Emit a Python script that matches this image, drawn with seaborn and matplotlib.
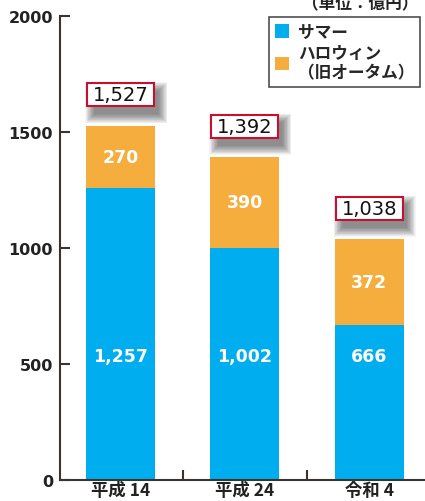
import numpy as np
import pandas as pd
import matplotlib
matplotlib.use('Agg')
import matplotlib.pyplot as plt
import seaborn as sns
from matplotlib.patches import Patch, Rectangle
from matplotlib.transforms import IdentityTransform

# data
categories = ['平成 14', '平成 24', '令和 4']
summer = [1257, 1002, 666]
halloween = [270, 390, 372]
totals = [1527, 1392, 1038]
series_names = ['サマー', 'ハロウィン\n（旧オータム）']
unit_label = '（単位：億円）'
yticks = [0, 500, 1000, 1500, 2000]

BLUE = '#00aeef'
ORANGE = '#f5ad3d'
RED = '#c8102e'
AXC = '#3a3330'

sns.set_theme(style='white')
plt.rcParams['font.family'] = ['Noto Sans CJK JP', 'DejaVu Sans']

df = pd.DataFrame({'cat': categories, 'summer': summer, 'halloween': halloween})
df['total'] = df['summer'] + df['halloween']

fig = plt.figure(figsize=(4.25, 5.02), dpi=100)
ax = fig.add_axes([60 / 425, 21 / 502, 365 / 425, 464 / 502])

sns.barplot(data=df, x='cat', y='total', color=ORANGE, width=0.556, saturation=1,
            linewidth=0, edgecolor='none', ax=ax)
sns.barplot(data=df, x='cat', y='summer', color=BLUE, width=0.556, saturation=1,
            linewidth=0, edgecolor='none', ax=ax)

ax.set_xlim(-0.49, 2.45)
ax.set_ylim(0, 2000)
ax.set_xlabel('')
ax.set_ylabel('')
ax.set_yticks(yticks)
ax.set_yticklabels([str(v) for v in yticks], fontweight='bold', fontsize=11.5, color='#222',
                   family='DejaVu Sans')
ax.tick_params(axis='y', left=True, direction='in', length=7, width=1.5, color=AXC, pad=5)
ax.set_xticks(range(len(categories)))
ax.set_xticklabels(categories, fontweight='bold', fontsize=12.5, color='#222')
ax.tick_params(axis='x', which='major', length=0, pad=1)
ax.set_xticks([0.5, 1.5], minor=True)
ax.tick_params(axis='x', which='minor', bottom=True, direction='in', length=7, width=1.5, color=AXC)
for s in ['top', 'right']:
    ax.spines[s].set_visible(False)
for s in ['left', 'bottom']:
    ax.spines[s].set_color(AXC)
    ax.spines[s].set_linewidth(1.5)

# segment labels
for i, r in df.iterrows():
    ax.text(i, 535, f'{r.summer:,}', ha='center', va='center', color='white',
            fontsize=12.5, fontweight='bold', family='DejaVu Sans')
    ax.text(i, r.summer + r.halloween / 2, f'{r.halloween:,}', ha='center', va='center',
            color='white', fontsize=12.5, fontweight='bold', family='DejaVu Sans')

# total boxes with blurred shadow (pixel geometry)
bw, bh, up = 67, 23, 31
for i, t in enumerate(totals):
    px, py = ax.transData.transform((i, df.total[i]))
    cx, cy = px, py + up
    sx, sy = cx + 4, cy - 8
    for k in range(16):
        e = k * 0.6
        ax.add_patch(Rectangle((sx - bw / 2 + 3 - e, sy - bh / 2 - e), bw - 3 + 2 * e, bh + 2 * e,
                               transform=IdentityTransform(), fc='#2a2a2a', ec='none',
                               alpha=0.045, clip_on=False, zorder=4))
    ax.add_patch(Rectangle((cx - bw / 2, cy - bh / 2), bw, bh, transform=IdentityTransform(),
                           fc='white', ec=RED, lw=1.5, clip_on=False, zorder=5))
    ax.annotate(f'{t:,}', xy=(i, df.total[i]), xytext=(0, up), textcoords='offset pixels',
                ha='center', va='center', fontsize=14, color='#111', family='DejaVu Sans',
                zorder=6)

handles = [Patch(facecolor=BLUE, edgecolor='none'), Patch(facecolor=ORANGE, edgecolor='none')]
leg = fig.legend(handles, series_names, loc='upper right', bbox_to_anchor=(420 / 425, 1 - 18 / 502),
                 borderaxespad=0, frameon=True, fancybox=False, edgecolor='#222',
                 handlelength=0.85, handleheight=0.85, handletextpad=0.5, borderpad=0.35,
                 labelspacing=0.2, prop={'weight': 'bold', 'size': 12})
leg.get_frame().set_linewidth(1.2)
for txt in leg.get_texts():
    txt.set_linespacing(1.05)

fig.text(418 / 425, 1 - 4 / 502, unit_label, ha='right', va='center', fontsize=12,
         fontweight='bold', color='#222')

fig.savefig('out.png', dpi=100)
